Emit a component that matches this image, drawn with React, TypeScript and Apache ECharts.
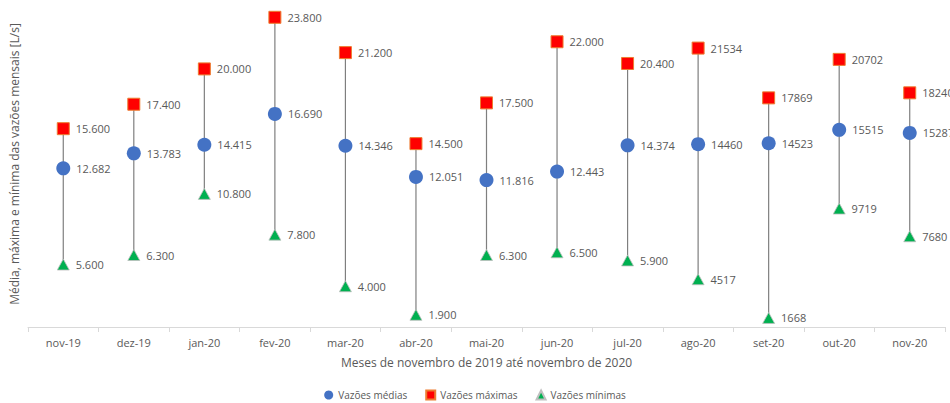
import React, { useEffect, useRef } from "react";
import * as echarts from "echarts";

// Monthly flow statistics, in L/s
const months = [
  "nov-19", "dez-19", "jan-20", "fev-20", "mar-20", "abr-20", "mai-20",
  "jun-20", "jul-20", "ago-20", "set-20", "out-20", "nov-20",
];
const meanFlow = [12682, 13783, 14415, 16690, 14346, 12051, 11816, 12443, 14374, 14460, 14523, 15515, 15287];
const maxFlow = [15600, 17400, 20000, 23800, 21200, 14500, 17500, 22000, 20400, 21534, 17869, 20702, 18240];
const minFlow = [5600, 6300, 10800, 7800, 4000, 1900, 6300, 6500, 5900, 4517, 1668, 9719, 7680];
// Whether a month's labels are written with a "." thousands separator
const groupedLabel = [true, true, true, true, true, true, true, true, true, false, false, false, false];

const TEXT = "#595959";
const FONT = "'Open Sans', sans-serif";

const fmt = (v: number, i: number) =>
  groupedLabel[i] ? String(v).replace(/\B(?=(\d{3})+(?!\d))/g, ".") : String(v);

export default function App() {
  const ref = useRef<HTMLDivElement>(null);

  useEffect(() => {
    if (!ref.current) return;
    const chart = echarts.init(ref.current, null, { renderer: "svg" });

    const label = {
      show: true,
      position: "right" as const,
      distance: 6,
      color: TEXT,
      fontFamily: FONT,
      fontSize: 11,
      formatter: (p: any) => fmt(p.value, p.dataIndex),
    };

    chart.setOption({
      animation: false,
      textStyle: { fontFamily: FONT },
      grid: { left: 24, right: 5, top: 1, bottom: 76 },
      legend: {
        top: 389,
        left: "center",
        padding: 0,
        itemWidth: 9,
        itemHeight: 9,
        itemGap: 18,
        textStyle: { color: TEXT, fontSize: 10, fontFamily: FONT, lineHeight: 12 },
        data: ["Vazões médias", "Vazões máximas", "Vazões mínimas"],
      },
      xAxis: {
        type: "category",
        data: months,
        boundaryGap: true,
        axisLine: { lineStyle: { color: "#d9d9d9" } },
        axisTick: { show: true, length: 5, lineStyle: { color: "#d9d9d9" } },
        axisLabel: { color: TEXT, fontSize: 11, fontFamily: FONT, margin: 10 },
        name: "Meses de novembro de 2019 até novembro de 2020",
        nameLocation: "middle",
        nameGap: 29,
        nameTextStyle: { color: TEXT, fontSize: 12, fontFamily: FONT },
      },
      yAxis: {
        type: "value",
        min: 1000,
        max: 25000,
        axisLine: { show: false },
        axisTick: { show: false },
        axisLabel: { show: false },
        splitLine: { show: false },
        name: "Média, máxima e mínima das vazões mensais [L/s]",
        nameLocation: "middle",
        nameGap: 8,
        nameTextStyle: { color: TEXT, fontSize: 12, fontFamily: FONT },
      },
      series: [
        {
          type: "custom",
          z: 1,
          silent: true,
          encode: { x: 0, y: [1, 2] },
          data: months.map((_, i) => [i, minFlow[i], maxFlow[i]]),
          renderItem: (params: any, api: any) => {
            const a = api.coord([api.value(0), api.value(1)]);
            const b = api.coord([api.value(0), api.value(2)]);
            return {
              type: "line",
              shape: { x1: a[0], y1: a[1], x2: b[0], y2: b[1] },
              style: { stroke: "#7f7f7f", lineWidth: 1.2 },
            };
          },
        },
        {
          name: "Vazões médias",
          type: "scatter",
          z: 3,
          symbol: "circle",
          symbolSize: 14,
          itemStyle: { color: "#4472C4", opacity: 1 },
          label,
          data: meanFlow,
        },
        {
          name: "Vazões máximas",
          type: "scatter",
          z: 3,
          symbol: "rect",
          symbolSize: 12,
          itemStyle: { color: "#FF0000", borderColor: "#ED7D31", borderWidth: 1, opacity: 1 },
          label,
          data: maxFlow,
        },
        {
          name: "Vazões mínimas",
          type: "scatter",
          z: 3,
          symbol: "triangle",
          symbolSize: [12, 11],
          itemStyle: { color: "#00B050", borderColor: "#bfbfbf", borderWidth: 0.8, opacity: 1 },
          label,
          data: minFlow,
        },
      ],
    });

    return () => chart.dispose();
  }, []);

  return (
    <div
      ref={ref}
      style={{ position: "absolute", left: 0, top: 0, width: 950, height: 403, background: "#fff" }}
    />
  );
}
